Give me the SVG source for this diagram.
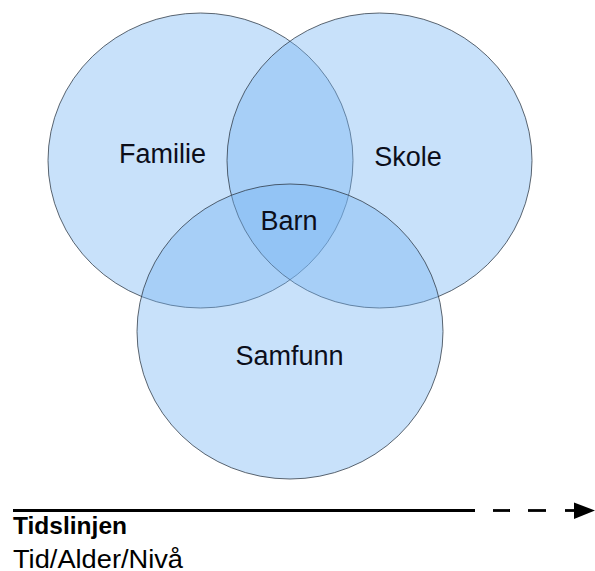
<svg xmlns="http://www.w3.org/2000/svg" width="595" height="571" viewBox="0 0 595 571">
<style>
.c{fill:#75b4f2;fill-opacity:0.4;stroke:#2a3440;stroke-opacity:0.75;stroke-width:1}
.lbl{font-family:"Liberation Sans",Arial,sans-serif;font-size:27px;fill:#0c0e1a;text-anchor:middle}
.t{font-family:"Liberation Sans",Arial,sans-serif;fill:#000}
.tl{stroke:#000;stroke-width:2.8}
</style>
<g id="familie">
<ellipse class="c" cx="200.5" cy="160.5" rx="152.5" ry="147.5"/>
</g>
<g id="skole">
<ellipse class="c" cx="379.5" cy="160.5" rx="152.5" ry="147.5"/>
</g>
<g id="samfunn">
<ellipse class="c" cx="290" cy="331.5" rx="153" ry="147.5"/>
</g>
<g id="labels">
<text class="lbl" x="162.5" y="163">Familie</text>
<text class="lbl" x="408" y="166">Skole</text>
<text class="lbl" x="289" y="230">Barn</text>
<text class="lbl" x="289.5" y="365">Samfunn</text>
</g>
<g id="connectors">
<line class="tl" x1="13" y1="510.5" x2="475" y2="510.5"/>
<line class="tl" x1="493" y1="510.5" x2="510" y2="510.5"/>
<line class="tl" x1="528" y1="510.5" x2="546" y2="510.5"/>
<line class="tl" x1="565" y1="510.5" x2="577" y2="510.5"/>
<path d="M574,502.5 L595,510.5 L574,519 Z" fill="#000"/>
</g>
<g id="timeline-text">
<text class="t" x="13" y="534" font-size="24" font-weight="bold" textLength="114" lengthAdjust="spacingAndGlyphs">Tidslinjen</text>
<text class="t" x="13" y="567.5" font-size="25" textLength="170" lengthAdjust="spacingAndGlyphs">Tid/Alder/Nivå</text>
</g>
</svg>
